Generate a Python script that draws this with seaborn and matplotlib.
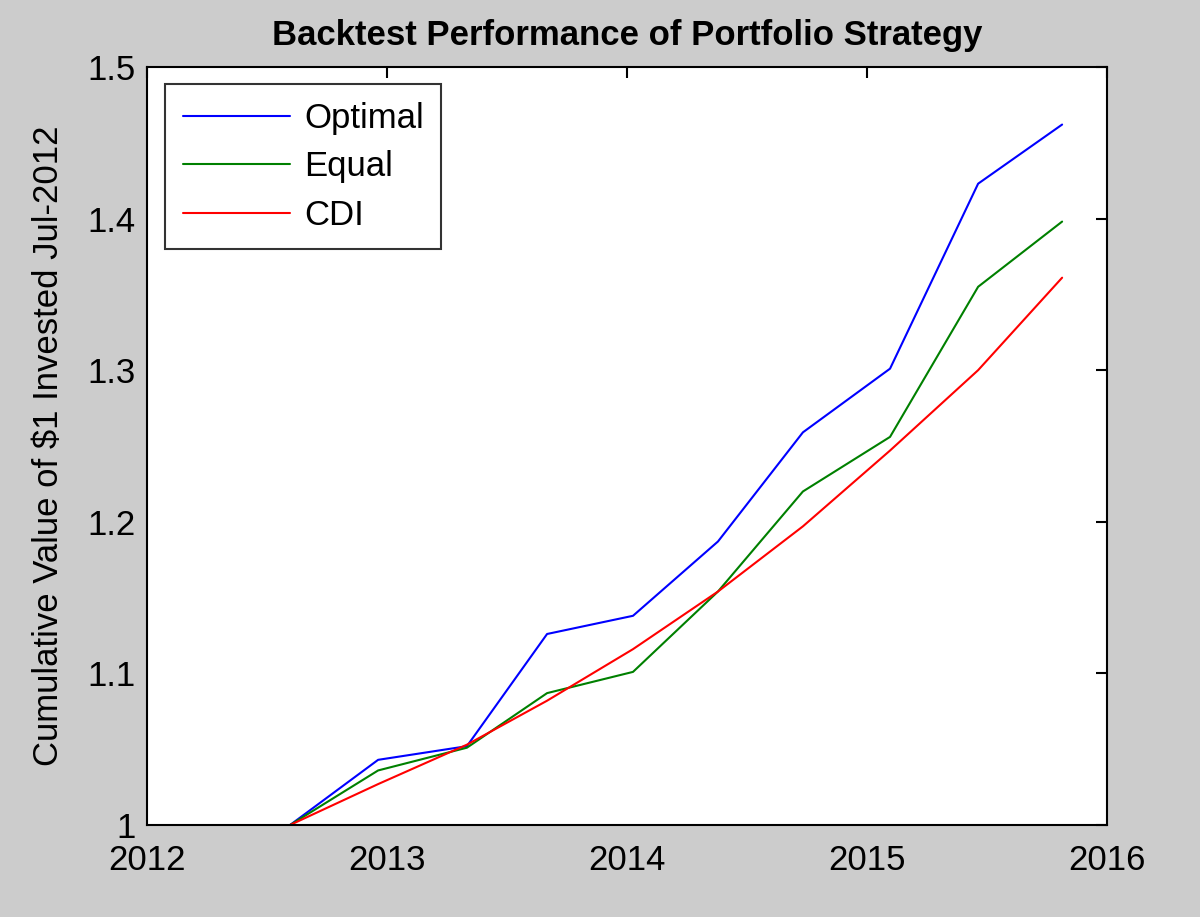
import matplotlib
matplotlib.use("Agg")
import matplotlib.pyplot as plt
import seaborn as sns
import pandas as pd

# decimal years of each observation
dates = [2012.596, 2012.963, 2013.333, 2013.667, 2014.025,
         2014.379, 2014.733, 2015.096, 2015.463, 2015.813]
optimal = [1.000, 1.043, 1.052, 1.126, 1.138, 1.187, 1.259, 1.301, 1.423, 1.462]
equal = [1.000, 1.036, 1.051, 1.087, 1.101, 1.154, 1.220, 1.256, 1.355, 1.398]
cdi = [1.000, 1.027, 1.053, 1.082, 1.116, 1.154, 1.197, 1.247, 1.300, 1.361]

names = ["Optimal", "Equal", "CDI"]
colors = ["#0000ff", "#008000", "#ff0000"]
xticks = [2012, 2013, 2014, 2015, 2016]
yticks = [1, 1.1, 1.2, 1.3, 1.4, 1.5]
ytick_labels = ["1", "1.1", "1.2", "1.3", "1.4", "1.5"]

df = pd.concat([
    pd.DataFrame({"date": dates, "value": optimal, "strategy": "Optimal"}),
    pd.DataFrame({"date": dates, "value": equal, "strategy": "Equal"}),
    pd.DataFrame({"date": dates, "value": cdi, "strategy": "CDI"}),
])

sns.set_theme(style="white")
plt.rcParams["font.family"] = ["Liberation Sans", "DejaVu Sans"]
plt.rcParams["text.color"] = "black"
plt.rcParams["axes.labelcolor"] = "black"

fig = plt.figure(figsize=(12, 9.17), dpi=100, facecolor="#cccccc")
ax = fig.add_axes([0.1225, 0.1003, 0.8, 0.8267])
ax.set_facecolor("white")

sns.lineplot(data=df, x="date", y="value", hue="strategy", hue_order=names,
             palette=colors, linewidth=1.5, legend=False, ax=ax)

ax.set_xlim(2012, 2016)
ax.set_ylim(1, 1.5)
ax.set_xticks(xticks)
ax.set_xticklabels([str(t) for t in xticks])
ax.set_yticks(yticks)
ax.set_yticklabels(ytick_labels)
ax.tick_params(direction="in", length=8, width=1.5, top=True, right=True,
               labelsize=25, colors="black")
ax.tick_params(axis="x", pad=14)
ax.tick_params(axis="y", pad=8)
for s in ax.spines.values():
    s.set_color("black")
    s.set_linewidth(1.5)

ax.set_xlabel("")
ax.set_ylabel("Cumulative Value of $1 Invested Jul-2012", fontsize=25, labelpad=16)
ax.set_title("Backtest Performance of Portfolio Strategy", fontsize=25,
             fontweight="bold", pad=16)

leg = ax.legend(ax.get_lines(), names, loc="upper left",
                bbox_to_anchor=(0.019, 0.977), fontsize=25, frameon=True,
                fancybox=False, handlelength=3.1, handletextpad=0.4,
                borderpad=0.5, labelspacing=0.45, borderaxespad=0)
leg.get_frame().set_edgecolor("black")
leg.get_frame().set_linewidth(1.5)

fig.savefig("out.png", dpi=100, facecolor=fig.get_facecolor())
